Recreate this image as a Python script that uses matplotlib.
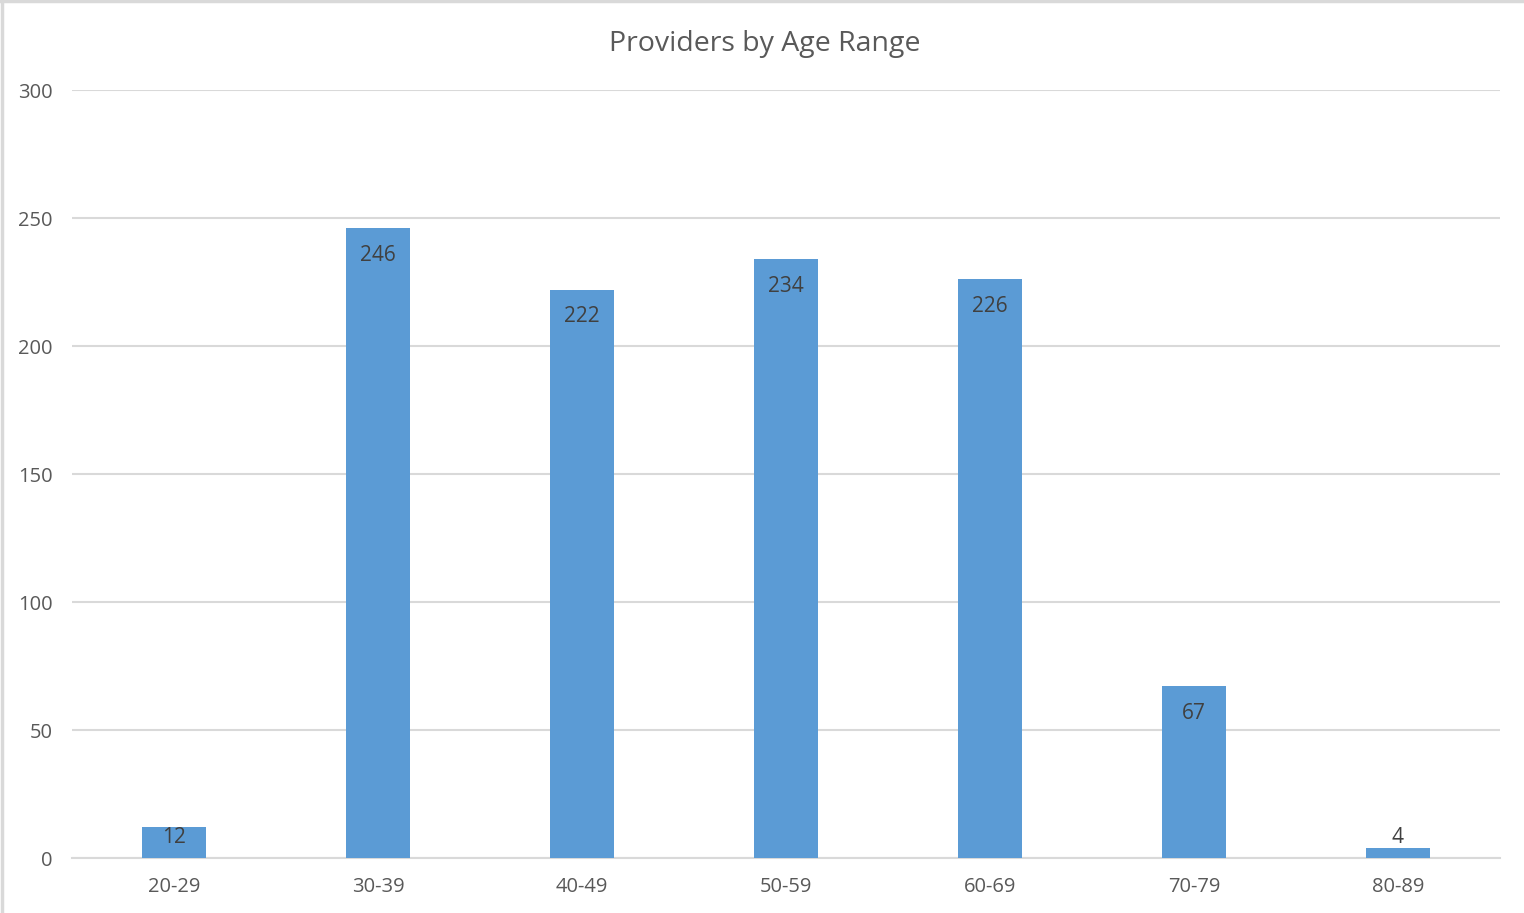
import matplotlib
matplotlib.use("Agg")
import matplotlib.pyplot as plt
from matplotlib.lines import Line2D

categories = ["20-29", "30-39", "40-49", "50-59", "60-69", "70-79", "80-89"]
providers = [12, 246, 222, 234, 226, 67, 4]
y_ticks = [0, 50, 100, 150, 200, 250, 300]

plt.rcParams['font.family'] = ['Open Sans', 'DejaVu Sans']
text_col = '#595959'
bar_col = '#5B9BD5'
grid_col = '#D9D9D9'

fig = plt.figure(figsize=(15.24, 9.13), dpi=100)
ax = fig.add_axes([72 / 1524, 55 / 913, 1428 / 1524, 768 / 913])

x = list(range(len(categories)))
ax.bar(x, providers, width=0.314, color=bar_col, zorder=3)

# labels sit inside the bar top; short bars get a floor so text clears the axis
for xi, v in zip(x, providers):
    ypos = max(v - 10.6, 8)
    ax.text(xi, ypos, str(v), ha='center', va='center', fontsize=15,
            color='#404040', zorder=4)

ax.set_xlim(-0.5, len(categories) - 0.5)
ax.set_ylim(0, 300)
ax.set_yticks(y_ticks)
ax.set_xticks(x)
ax.set_xticklabels(categories)
ax.yaxis.grid(True, color=grid_col, linewidth=1.5, zorder=0)
ax.tick_params(axis='both', length=0, labelsize=14.5, labelcolor=text_col)
ax.tick_params(axis='y', pad=14)
ax.tick_params(axis='x', pad=14)
for s in ['top', 'right', 'left']:
    ax.spines[s].set_visible(False)
ax.spines['bottom'].set_color(grid_col)
ax.spines['bottom'].set_linewidth(1.5)

fig.text(765 / 1524, 1 - 44 / 913, "Providers by Age Range", ha='center',
         va='center', fontsize=20.5, color=text_col)

# thin frame at the left and top edges
fig.add_artist(Line2D([0.0015, 0.0015], [0, 1], color=grid_col, lw=2.5,
                      transform=fig.transFigure))
fig.add_artist(Line2D([0, 1], [0.999, 0.999], color=grid_col, lw=2.5,
                      transform=fig.transFigure))

fig.savefig("out.png", dpi=100)
